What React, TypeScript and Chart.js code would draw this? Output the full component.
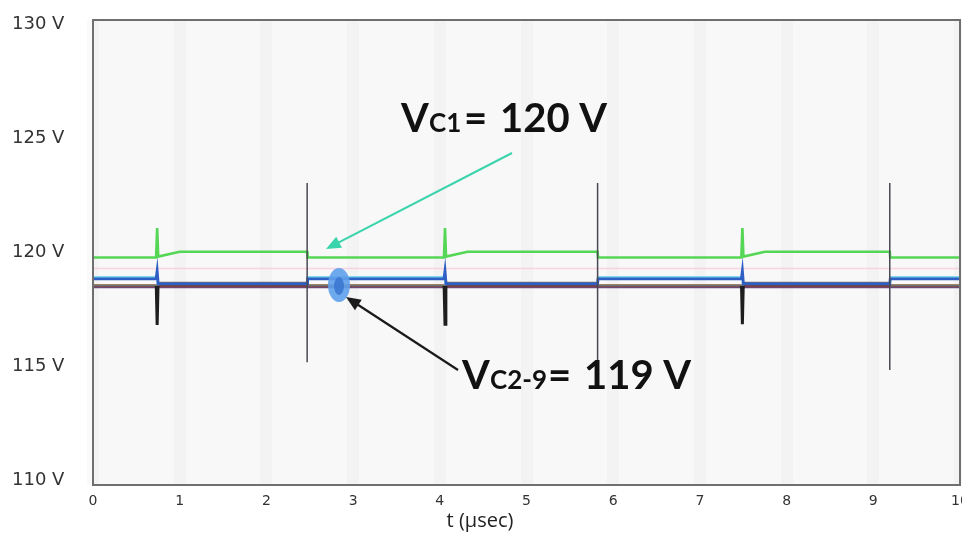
import React, { useEffect, useRef } from "react";
import { Chart, registerables } from "chart.js";

Chart.register(...registerables);

// ---- axis ticks ----
const xTicks = [0, 1, 2, 3, 4, 5, 6, 7, 8, 9, 10];
const yTicks = [110, 115, 120, 125, 130];

// ---- Vc1 (green) ----
const vc1T = [0, 0.728, 0.74, 0.752, 1.0, 2.47, 2.475, 4.048, 4.06, 4.072, 4.32, 5.82, 5.825, 7.478, 7.49, 7.502, 7.75, 9.19, 9.195, 10];
const vc1V = [119.78, 119.78, 121.07, 119.82, 120.03, 120.03, 119.78, 119.78, 121.07, 119.82, 120.03, 120.03, 119.78, 119.78, 121.07, 119.82, 120.03, 120.03, 119.78, 119.78];

// ---- Vc2 (blue) ----
const vc2T = [0, 0.728, 0.74, 0.752, 2.47, 2.475, 4.048, 4.06, 4.072, 5.82, 5.825, 7.478, 7.49, 7.502, 9.19, 9.195, 10];
const vc2V = [118.84, 118.84, 119.2, 118.62, 118.62, 118.84, 118.84, 119.2, 118.62, 118.62, 118.84, 118.84, 119.2, 118.62, 118.62, 118.84, 118.84];

// ---- Vc3 (light cyan) ----
const vc3T = [0, 0.74, 0.745, 2.47, 2.475, 4.06, 4.065, 5.82, 5.825, 7.49, 7.495, 9.19, 9.195, 10];
const vc3V = [118.92, 118.92, 118.62, 118.62, 118.92, 118.92, 118.62, 118.62, 118.92, 118.92, 118.62, 118.62, 118.92, 118.92];

// ---- Vc4 (pink, faint) ----
const vc4T = [0, 10];
const vc4V = [119.3, 119.3];

// ---- Vc5 (orange) ----
const vc5T = [0, 10];
const vc5V = [118.56, 118.56];

// ---- Vc6 (gray) ----
const vc6T = [0, 0.74, 0.745, 2.47, 2.475, 4.06, 4.065, 5.82, 5.825, 7.49, 7.495, 9.19, 9.195, 10];
const vc6V = [118.55, 118.55, 118.67, 118.67, 118.55, 118.55, 118.67, 118.67, 118.55, 118.55, 118.67, 118.67, 118.55, 118.55];

// ---- Vc7 (purple) ----
const vc7T = [0, 10];
const vc7V = [118.49, 118.49];

// ---- Vc8 (brown) ----
const vc8T = [0, 10];
const vc8V = [118.53, 118.53];

// ---- switching transients ----
const dipTimes = [0.74, 4.06, 7.49];
const dipBase = [118.53, 118.53, 118.53];
const dipLow = [116.82, 116.85, 116.85];

const barTimes = [2.47, 5.82, 9.19];
const barTop = [123.05, 123.05, 123.05];
const barBottom = [115.19, 114.4, 114.84];

const pts = (t: number[], v: number[]) => t.map((x, i) => ({ x, y: v[i] }));

const buildDips = () => {
  const out: any[] = [];
  dipTimes.forEach((t, i) => {
    out.push({ x: t - 0.01, y: dipBase[i] });
    out.push({ x: t, y: dipLow[i] });
    out.push({ x: t + 0.01, y: dipBase[i] });
    out.push({ x: t + 0.01, y: null });
  });
  return out;
};

const buildBars = () => {
  const out: any[] = [];
  barTimes.forEach((t, i) => {
    out.push({ x: t, y: barTop[i] });
    out.push({ x: t, y: barBottom[i] });
    out.push({ x: t, y: null });
  });
  return out;
};

const drawArrow = (ctx: CanvasRenderingContext2D, x1: number, y1: number, x2: number, y2: number, color: string, w: number, head: number) => {
  const ang = Math.atan2(y2 - y1, x2 - x1);
  ctx.save();
  ctx.strokeStyle = color;
  ctx.fillStyle = color;
  ctx.lineWidth = w;
  ctx.beginPath();
  ctx.moveTo(x1, y1);
  ctx.lineTo(x2 - Math.cos(ang) * head * 0.8, y2 - Math.sin(ang) * head * 0.8);
  ctx.stroke();
  ctx.beginPath();
  ctx.moveTo(x2, y2);
  ctx.lineTo(x2 - head * Math.cos(ang - 0.4), y2 - head * Math.sin(ang - 0.4));
  ctx.lineTo(x2 - head * Math.cos(ang + 0.4), y2 - head * Math.sin(ang + 0.4));
  ctx.closePath();
  ctx.fill();
  ctx.restore();
};

const deco = {
  id: "deco",
  beforeDraw(chart: any) {
    const { ctx, chartArea: a } = chart;
    ctx.save();
    ctx.fillStyle = "#ffffff";
    ctx.fillRect(0, 0, chart.width, chart.height);
    ctx.fillStyle = "#f8f8f8";
    ctx.fillRect(a.left, a.top, a.right - a.left, a.bottom - a.top);
    ctx.restore();
  },
  afterDraw(chart: any) {
    const { ctx, chartArea: a } = chart;
    ctx.save();
    // frame
    ctx.strokeStyle = "#6f6f6f";
    ctx.lineWidth = 2;
    ctx.strokeRect(a.left, a.top, a.right - a.left, a.bottom - a.top);

    // blue marker ellipse
    ctx.fillStyle = "rgba(95,160,235,0.9)";
    ctx.beginPath();
    ctx.ellipse(339, 285, 11, 17, 0, 0, Math.PI * 2);
    ctx.fill();
    ctx.fillStyle = "rgba(60,120,210,0.9)";
    ctx.beginPath();
    ctx.ellipse(339, 286, 5, 9, 0, 0, Math.PI * 2);
    ctx.fill();

    // arrows
    drawArrow(ctx, 512, 153, 326, 249, "#3ad4ac", 2, 16);
    drawArrow(ctx, 458, 370, 346, 297, "#1a1a1a", 2.2, 16);

    // annotation texts
    ctx.fillStyle = "#111111";
    ctx.textBaseline = "alphabetic";
    ctx.textAlign = "left";
    const big = "bold 40px Lato";
    const small = "bold 26px Lato";
    ctx.font = big;
    ctx.fillText("V", 401, 132);
    ctx.font = small;
    ctx.fillText("C1", 429, 132);
    ctx.font = big;
    ctx.fillText("=", 464, 132);
    ctx.fillText("120 V", 500, 132);

    ctx.font = big;
    ctx.fillText("V", 462, 389);
    ctx.font = small;
    ctx.fillText("C2-9", 490, 389);
    ctx.font = big;
    ctx.fillText("=", 548, 389);
    ctx.fillText("119 V", 584, 389);

    // axis title
    ctx.font = "20px 'Open Sans'";
    ctx.fillStyle = "#222222";
    ctx.textAlign = "center";
    ctx.textBaseline = "middle";
    ctx.fillText("t (\u00b5sec)", 480, 521);
    ctx.restore();
  },
};

export default function App() {
  const ref = useRef<HTMLCanvasElement | null>(null);
  useEffect(() => {
    if (!ref.current) return;
    const line = (label: string, data: any[], color: string, width: number) => ({
      label,
      data,
      borderColor: color,
      backgroundColor: color,
      borderWidth: width,
      pointRadius: 0,
      tension: 0,
      fill: false,
      spanGaps: false,
    });
    const chart = new Chart(ref.current, {
      type: "line",
      data: {
        datasets: [
          line("transients", buildBars(), "#4a4a55", 1.5),
          line("dips", buildDips(), "#1e1e1e", 3),
          line("Vc1", pts(vc1T, vc1V), "#55d655", 2.6),
          line("Vc2", pts(vc2T, vc2V), "#2e5fc4", 2.8),
          line("Vc3", pts(vc3T, vc3V), "#7fd8ee", 2),
          line("Vc6", pts(vc6T, vc6V), "#6e6e6e", 2),
          line("Vc8", pts(vc8T, vc8V), "#7b3f3f", 2.5),
          line("Vc7", pts(vc7T, vc7V), "#6b4a86", 2.5),
          line("Vc5", pts(vc5T, vc5V), "#e8a050", 2),
          line("Vc4", pts(vc4T, vc4V), "rgba(250,190,215,0.6)", 1.5),
        ],
      },
      options: {
        responsive: false,
        animation: false,
        events: [],
        layout: { padding: { top: 20, right: 2, bottom: 0, left: 12 } },
        plugins: { legend: { display: false }, tooltip: { enabled: false } },
        scales: {
          x: {
            type: "linear",
            min: 0,
            max: 10,
            afterBuildTicks: (s: any) => {
              s.ticks = xTicks.map((v) => ({ value: v }));
            },
            afterFit: (s: any) => {
              s.height = 51;
              s.paddingLeft = 0;
              s.paddingRight = 0;
            },
            border: { display: false },
            grid: { color: "rgba(0,0,0,0.018)", lineWidth: 12, drawTicks: false },
            ticks: {
              padding: 8,
              color: "#333333",
              font: { family: "DejaVu Sans", size: 14 },
              maxRotation: 0,
              autoSkip: false,
            },
          },
          y: {
            type: "linear",
            min: 109.8,
            max: 130.2,
            afterBuildTicks: (s: any) => {
              s.ticks = yTicks.map((v) => ({ value: v }));
            },
            afterFit: (s: any) => {
              s.width = 81;
              s.paddingTop = 0;
              s.paddingBottom = 0;
            },
            border: { display: false },
            grid: { display: false, drawTicks: false },
            ticks: {
              crossAlign: "far",
              color: "#333333",
              font: { family: "DejaVu Sans", size: 18 },
              callback: (v: any) => `${v} V`,
            },
          },
        },
      },
      plugins: [deco],
    });
    return () => chart.destroy();
  }, []);
  return (
    <div style={{ position: "fixed", left: 0, top: 0, width: 962, height: 536, background: "#fff" }}>
      <canvas ref={ref} width={962} height={536} style={{ display: "block" }} />
    </div>
  );
}
